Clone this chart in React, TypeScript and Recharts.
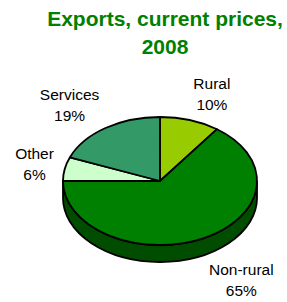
import { PieChart, Pie, Cell } from 'recharts';

const categories = ['Rural', 'Non-rural', 'Other', 'Services'];
const shares = [10, 65, 6, 19];
const colors = ['#99cc00', '#008000', '#ccffcc', '#339966'];
const titleLines = ['Exports, current prices,', '2008'];

const data = categories.map((name, i) => ({ name, value: shares[i] }));

const FONT = "'Liberation Sans', Arial, sans-serif";
const LABEL_SIZE = 15.5;
const SQUASH = 0.66; // tilt of the pie (ry / rx)
const DEPTH = 17; // thickness of the 3D rim
const RAD = Math.PI / 180;

const pt = (cx: number, cy: number, rx: number, ry: number, a: number) =>
    [cx + rx * Math.cos(-a * RAD), cy + ry * Math.sin(-a * RAD)];

const darken = (hex: string, k: number) => {
    const n = parseInt(hex.slice(1), 16);
    const ch = [(n >> 16) & 255, (n >> 8) & 255, n & 255].map(v => Math.round(v * k));
    return `rgb(${ch.join(',')})`;
};

let ctx: CanvasRenderingContext2D | null = null;
const textWidth = (t: string) => {
    if (!ctx) ctx = document.createElement('canvas').getContext('2d');
    if (!ctx) return t.length * 8;
    ctx.font = `${LABEL_SIZE}px ${FONT}`;
    return ctx.measureText(t).width;
};

// elliptical sector + visible part of the rim
function EllipseSector(props: any) {
    const { cx, cy, outerRadius, startAngle, endAngle, fill } = props;
    const rx = outerRadius;
    const ry = outerRadius * SQUASH;
    const [x0, y0] = pt(cx, cy, rx, ry, startAngle);
    const [x1, y1] = pt(cx, cy, rx, ry, endAngle);
    const sweep = startAngle > endAngle ? 1 : 0;
    const large = Math.abs(endAngle - startAngle) > 180 ? 1 : 0;

    const lo = Math.min(startAngle, endAngle);
    const hi = Math.max(startAngle, endAngle);
    const sides: string[] = [];
    for (let k = -2; k <= 1; k++) {
        const s = Math.max(lo, -180 + 360 * k);
        const e = Math.min(hi, 360 * k);
        if (e - s > 0.01) {
            const [ax, ay] = pt(cx, cy, rx, ry, e);
            const [bx, by] = pt(cx, cy, rx, ry, s);
            sides.push(
                `M${ax},${ay} A${rx},${ry} 0 0 1 ${bx},${by} L${bx},${by + DEPTH} A${rx},${ry} 0 0 0 ${ax},${ay + DEPTH} Z`
            );
        }
    }

    return (
        <g>
            {sides.map((d, i) => (
                <path key={i} d={d} fill={darken(fill, 0.6)} stroke="#000" strokeWidth={1.8} strokeLinejoin="round" />
            ))}
            <path
                d={`M${cx},${cy} L${x0},${y0} A${rx},${ry} 0 ${large} ${sweep} ${x1},${y1} Z`}
                fill={fill}
                stroke="#000"
                strokeWidth={1.8}
                strokeLinejoin="round"
            />
        </g>
    );
}

const renderLabel = (p: any) => {
    const { cx, cy, midAngle, name, percent } = p;
    const c = Math.cos(-midAngle * RAD);
    const s = Math.sin(-midAngle * RAD);
    const pct = `${Math.round(percent * 100)}%`;
    const w = Math.max(textWidth(name), textWidth(pct));
    const edge = cx + 108 * c;
    const xc = c >= 0 ? edge + w / 2 : edge - w / 2;
    const yc = cy + 92 * s + (s > 0 ? DEPTH : 0);
    return (
        <text textAnchor="middle" fontSize={LABEL_SIZE} fontFamily={FONT} fill="#000">
            <tspan x={xc} y={yc - 5}>{name}</tspan>
            <tspan x={xc} y={yc + 16.3}>{pct}</tspan>
        </text>
    );
};

export default function App() {
    return (
        <div style={{ position: 'absolute', left: 0, top: 0, width: 287, height: 302, background: '#fff' }}>
            <div
                style={{
                    position: 'absolute', left: 22, top: 5, width: 286, textAlign: 'center',
                    fontFamily: FONT, fontWeight: 700, fontSize: 21, lineHeight: '27.5px', color: '#008000',
                }}
            >
                {titleLines.map(t => <div key={t}>{t}</div>)}
            </div>
            <div style={{ position: 'absolute', left: 0, top: 0 }}>
                <PieChart width={287} height={302} margin={{ top: 0, right: 0, bottom: 0, left: 0 }}>
                    <Pie
                        data={data}
                        dataKey="value"
                        nameKey="name"
                        cx={160}
                        cy={181}
                        outerRadius={97}
                        startAngle={90}
                        endAngle={-270}
                        stroke="#000"
                        shape={EllipseSector}
                        label={renderLabel}
                        labelLine={false}
                        isAnimationActive={false}
                    >
                        {data.map((d, i) => <Cell key={d.name} fill={colors[i]} />)}
                    </Pie>
                </PieChart>
            </div>
        </div>
    );
}
